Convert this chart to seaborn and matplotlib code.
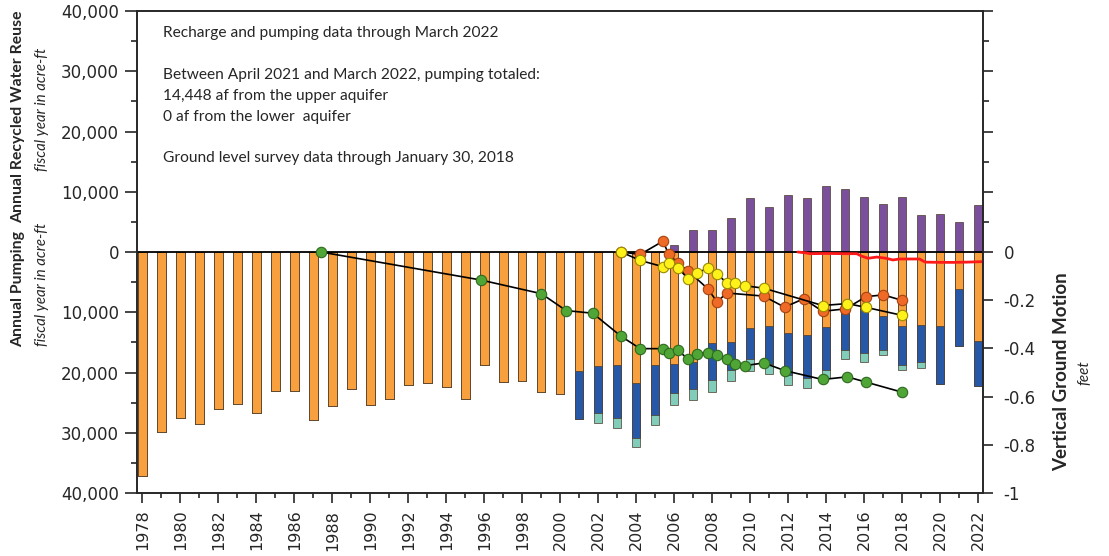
import numpy as np
import matplotlib
matplotlib.use('Agg')
import matplotlib.pyplot as plt
import seaborn as sns

# --- data ---
years = list(range(1978, 2023))

# annual pumping, acre-ft, stacked downward: orange / blue / teal segments
pump_orange = [37200, 29900, 27600, 28600, 26100, 25200, 26700, 23100, 23000, 27900,
               25600, 22800, 25400, 24400, 22000, 21700, 22400, 24400, 18800, 21600,
               21400, 23200, 23600, 19800, 18900, 18800, 21800, 18800, 18600, 18250,
               15100, 14900, 12600, 12300, 13400, 13700, 12400, 10000, 9500, 10700,
               12300, 12100, 12300, 6200, 14800]
pump_blue = [0] * 23 + [7900, 7900, 8800, 9000, 8300, 4800, 4500, 6100, 4700, 5200,
                        6300, 7000, 7200, 7200, 6200, 7300, 5600, 6400, 6200, 9600,
                        9400, 7400]
pump_teal = [0] * 24 + [1500, 1600, 1500, 1600, 2000, 1850, 2000, 1800, 1900, 1600,
                        1700, 1700, 1300, 1500, 1500, 800, 900, 900, 0, 0, 0]

# annual recycled water reuse, acre-ft
recycled = [0] * 28 + [1100, 3700, 3600, 5600, 8900, 7400, 9400, 9000, 10900, 10400,
                       9200, 8000, 9100, 6100, 6300, 5000, 7800]

# vertical ground motion, feet
green_t = [1987.4, 1995.8, 1999.0, 2000.3, 2001.7, 2003.2, 2004.2, 2005.4, 2005.7,
           2006.2, 2006.7, 2007.2, 2007.75, 2008.25, 2008.75, 2009.2, 2009.7, 2010.7,
           2011.8, 2013.8, 2015.1, 2016.1, 2018.0]
green_ft = [0.0, -0.116, -0.173, -0.243, -0.254, -0.350, -0.401, -0.401, -0.419,
            -0.408, -0.444, -0.422, -0.417, -0.427, -0.444, -0.465, -0.472, -0.460,
            -0.492, -0.529, -0.518, -0.540, -0.582]

yellow_t = [2003.2, 2004.2, 2005.4, 2005.7, 2006.2, 2006.7, 2007.2, 2007.75, 2008.25,
            2008.75, 2009.2, 2009.7, 2010.7, 2013.8, 2015.1, 2016.1, 2018.0]
yellow_ft = [0.0, -0.035, -0.061, -0.044, -0.066, -0.110, -0.089, -0.066, -0.091,
             -0.128, -0.130, -0.140, -0.150, -0.222, -0.214, -0.230, -0.263]

orange_t = [2003.2, 2004.2, 2005.4, 2005.7, 2006.2, 2006.7, 2007.75, 2008.25, 2008.75,
            2010.7, 2011.8, 2012.8, 2013.8, 2015.0, 2016.1, 2017.0, 2018.0]
orange_ft = [0.0, -0.010, 0.045, -0.010, -0.046, -0.077, -0.152, -0.207, -0.170,
             -0.183, -0.229, -0.194, -0.246, -0.236, -0.185, -0.178, -0.201]

red_t = [2012.5, 2012.95, 2013.15, 2014.0, 2015.0, 2015.6, 2015.85, 2016.2, 2016.65,
         2017.15, 2017.5, 2017.85, 2018.9, 2019.2, 2020.0, 2020.7, 2021.4, 2022.2]
red_ft = [0.0, -0.004, -0.007, -0.006, -0.007, -0.007, -0.017, -0.026, -0.021,
          -0.026, -0.033, -0.029, -0.029, -0.042, -0.043, -0.043, -0.042, -0.040]

left_ticks = [-40000, -30000, -20000, -10000, 0, 10000, 20000, 30000, 40000]
left_labels = ['40,000', '30,000', '20,000', '10,000', '0',
               '10,000', '20,000', '30,000', '40,000']
right_ticks = [-1, -0.8, -0.6, -0.4, -0.2, 0, 0.25, 0.5, 0.75, 1]
right_labels = ['-1', '-0.8', '-0.6', '-0.4', '-0.2', '0', '', '', '', '']

note = ("Recharge and pumping data through March 2022\n\n"
        "Between April 2021 and March 2022, pumping totaled:\n"
        "14,448 af from the upper aquifer\n"
        "0 af from the lower  aquifer\n\n"
        "Ground level survey data through January 30, 2018")

# --- style ---
sns.set_style('ticks')
plt.rcParams['font.family'] = ['DejaVu Sans']
plt.rcParams['axes.linewidth'] = 1.2

ORANGE = '#f8a03e'
BLUE = '#2758a8'
TEAL = '#82cdb9'
PURPLE = '#7a4f9c'
EDGE = '#4a3a2a'

fig = plt.figure(figsize=(11.09, 5.56), dpi=100)
ax = fig.add_axes([0.1235, 0.1133, 0.7628, 0.8669])

yrs = np.array(years)
o = np.array(pump_orange)
b = np.array(pump_blue)
t = np.array(pump_teal)

# stacked bars drawn back to front (deepest total first)
bar_kw = dict(ax=ax, orient='x', native_scale=True, width=0.43, saturation=1,
              errorbar=None, edgecolor=EDGE, linewidth=0.5)
sns.barplot(x=yrs, y=-(o + b + t), color=TEAL, **bar_kw)
sns.barplot(x=yrs, y=-(o + b), color=BLUE, **bar_kw)
sns.barplot(x=yrs, y=-o, color=ORANGE, **bar_kw)
sns.barplot(x=yrs, y=np.array(recycled), color=PURPLE, **bar_kw)
ax.axhline(0, color='black', lw=1.3, zorder=3)

ax.set_ylim(-40000, 40000)
ax.set_yticks(left_ticks)
ax.set_yticklabels(left_labels)
ax.set_yticks(np.arange(-35000, 40000, 10000), minor=True)
ax.set_xticks(np.arange(1978, 2023, 2))
ax.set_xticklabels([str(y) for y in range(1978, 2023, 2)], rotation=90)
ax.set_xticks(np.arange(1979, 2022, 2), minor=True)
ax.set_xlabel('')
ax.set_ylabel('')
ax.tick_params(axis='y', which='major', length=9, width=1.2, labelsize=12, pad=4)
ax.tick_params(axis='y', which='minor', length=4.5, width=1.2)
ax.tick_params(axis='x', which='major', length=7, width=1.2, labelsize=11.5, pad=5)
ax.tick_params(axis='x', which='minor', length=3.5, width=1.2)

# ground motion on the right axis
ax2 = ax.twinx()
line_kw = dict(ax=ax2, color='black', lw=1.2, marker='o', markersize=7.5,
               markeredgewidth=0.8, estimator=None, sort=False)
sns.lineplot(x=red_t, y=red_ft, ax=ax2, color='#ff1a1a', lw=2.0, estimator=None, sort=False)
sns.lineplot(x=green_t, y=green_ft, markerfacecolor='#4fa535', markeredgecolor='#2e6a1f', **line_kw)
sns.lineplot(x=orange_t, y=orange_ft, markerfacecolor='#ef6a26', markeredgecolor='#a8420f', **line_kw)
sns.lineplot(x=yellow_t, y=yellow_ft, markerfacecolor='#fff21a', markeredgecolor='#9a8a00', **line_kw)
ax2.set_ylim(-1, 1)
ax2.set_yticks(right_ticks)
ax2.set_yticklabels(right_labels)
ax2.set_yticks([0.125, 0.375, 0.625, 0.875], minor=True)
ax2.set_ylabel('')
ax2.tick_params(axis='y', which='major', length=7, width=1.2, labelsize=12, pad=8)
ax2.tick_params(axis='y', which='minor', length=4.5, width=1.2)
ax.set_xlim(1977.71, 2022.24)

for a in (ax, ax2):
    for s in a.spines.values():
        s.set_visible(True)
        s.set_linewidth(1.2)

ax.text(0.031, 0.968, note, transform=ax.transAxes, ha='left', va='top',
        fontsize=11.2, family=['Lato', 'DejaVu Sans'], linespacing=1.62)

lab = dict(rotation=90, ha='center', va='center', family=['Lato', 'DejaVu Sans'])
fig.text(18 / 1109, 1 - 117 / 556, 'Annual Recycled Water Reuse', fontsize=11.3, weight='bold', **lab)
fig.text(42 / 1109, 1 - 109 / 556, 'fiscal year in acre-ft', fontsize=10.8, style='italic', **lab)
fig.text(18 / 1109, 1 - 289 / 556, 'Annual Pumping', fontsize=11.3, weight='bold', **lab)
fig.text(42 / 1109, 1 - 284 / 556, 'fiscal year in acre-ft', fontsize=10.8, style='italic', **lab)
fig.text(1062 / 1109, 1 - 372 / 556, 'Vertical Ground Motion', fontsize=13.5, weight='bold', **lab)
fig.text(1084 / 1109, 1 - 373 / 556, 'feet', fontsize=11, style='italic', **lab)

fig.savefig('out.png', dpi=100)
